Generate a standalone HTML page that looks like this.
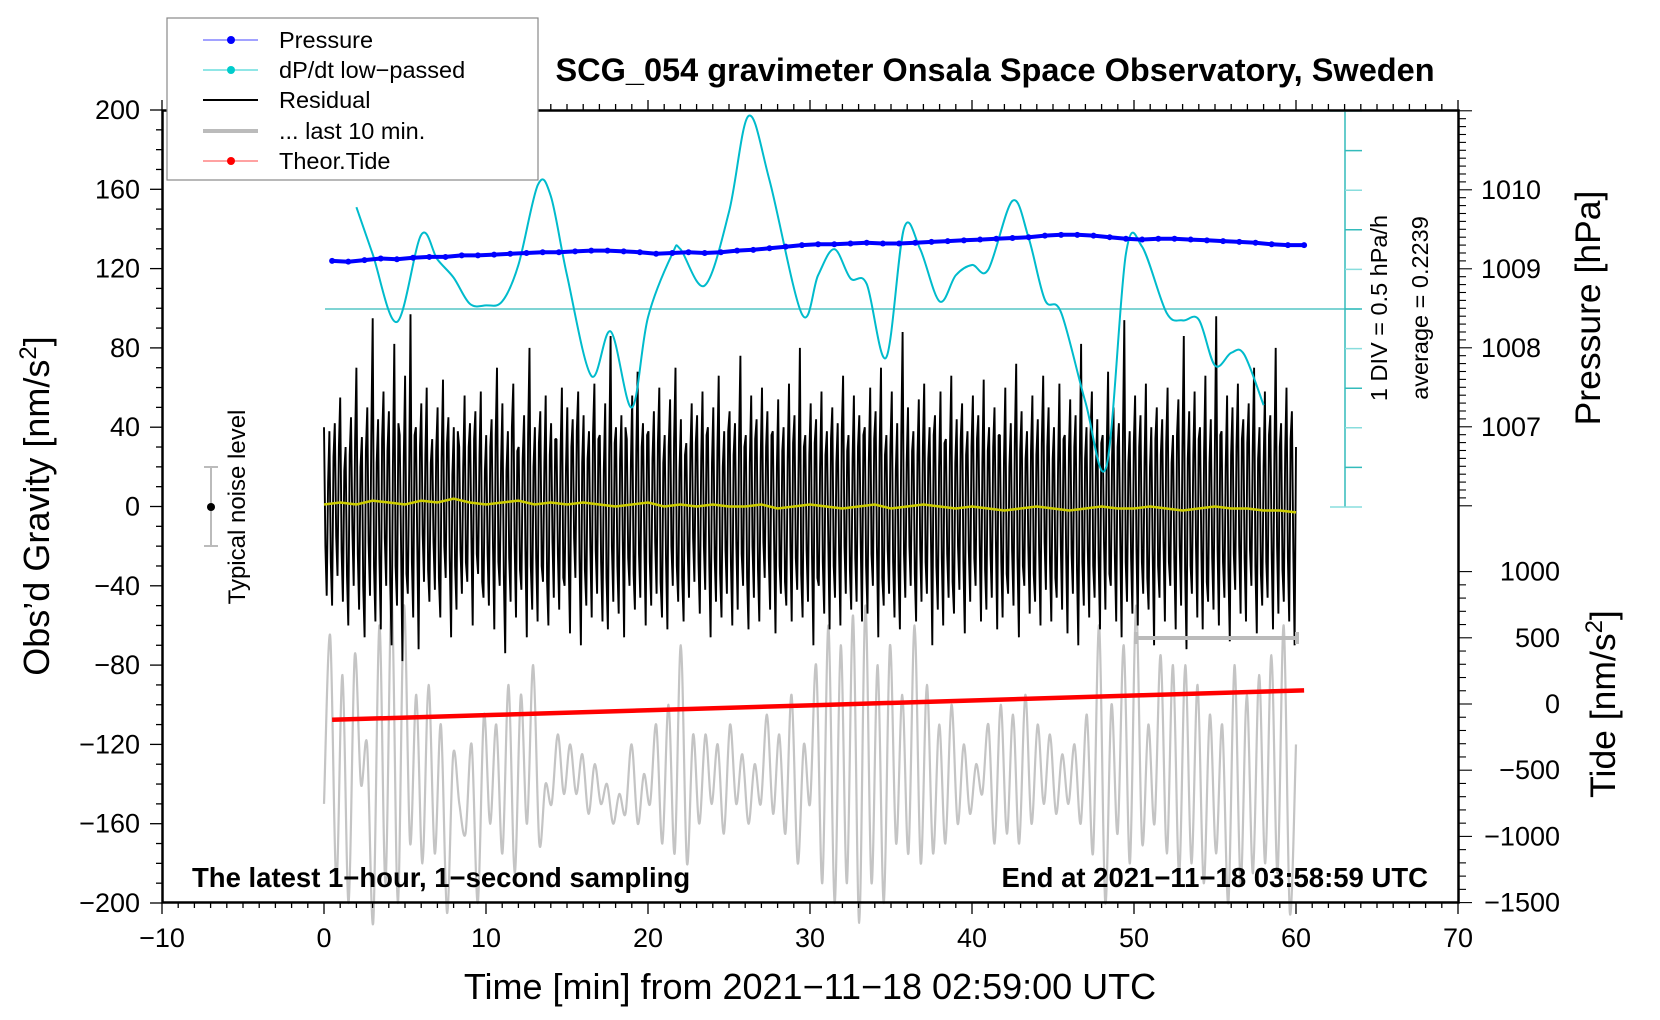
<!DOCTYPE html>
<html><head><meta charset="utf-8"><style>
html,body{margin:0;padding:0;background:#fff}
svg{display:block;font-family:"Liberation Sans",sans-serif}
</style></head><body>
<svg id="c" width="1660" height="1020" viewBox="0 0 1660 1020" xmlns="http://www.w3.org/2000/svg">
<g id="gGray"></g>
<g id="gRes"></g>
<g id="gYel"></g>
<g id="gTide"></g>
<g id="gCyan"></g>
<g id="gPres"></g>
<g id="gAxes"></g>
<text x="995" y="81" text-anchor="middle" font-size="32.5" font-weight="bold">SCG_054 gravimeter Onsala Space Observatory, Sweden</text>
<text x="192" y="887" font-size="27.5" font-weight="bold">The latest 1−hour, 1−second sampling</text>
<text x="1428" y="887" text-anchor="end" font-size="27.5" font-weight="bold">End at 2021−11−18 03:58:59 UTC</text>
<text x="810" y="999" text-anchor="middle" font-size="36">Time [min] from 2021−11−18 02:59:00 UTC</text>
<text transform="translate(49,506) rotate(-90)" text-anchor="middle" font-size="36">Obs’d Gravity [nm/s<tspan dy="-13" font-size="24">2</tspan><tspan dy="13">]</tspan></text>
<text transform="translate(1600,308) rotate(-90)" text-anchor="middle" font-size="35.5">Pressure [hPa]</text>
<text transform="translate(1615,704) rotate(-90)" text-anchor="middle" font-size="35.5">Tide [nm/s<tspan dy="-13" font-size="24">2</tspan><tspan dy="13">]</tspan></text>
<text transform="translate(1387,308) rotate(-90)" text-anchor="middle" font-size="23.5">1 DIV = 0.5 hPa/h</text>
<text transform="translate(1428,308) rotate(-90)" text-anchor="middle" font-size="23.5">average = 0.2239</text>
<g>
<line x1="211" y1="467" x2="211" y2="546" stroke="#bbb" stroke-width="2"/>
<line x1="204" y1="467" x2="218" y2="467" stroke="#bbb" stroke-width="2"/>
<line x1="204" y1="546" x2="218" y2="546" stroke="#bbb" stroke-width="2"/>
<circle cx="211" cy="507" r="4" fill="#000"/>
</g>
<text transform="translate(245,507) rotate(-90)" text-anchor="middle" font-size="24">Typical noise level</text>
<g>
<line x1="1136" y1="638" x2="1297" y2="638" stroke="#bbb" stroke-width="4"/>
<line x1="1136" y1="632" x2="1136" y2="644" stroke="#bbb" stroke-width="4"/>
<line x1="1297" y1="632" x2="1297" y2="644" stroke="#bbb" stroke-width="4"/>
</g>
<g>
<rect x="167" y="18" width="371" height="162" fill="#fff" stroke="#888" stroke-width="1.2"/>
<g><line x1="203" y1="40" x2="258" y2="40" stroke="#44f" stroke-width="1"/><circle cx="231" cy="40" r="4" fill="#00f"/><text x="279" y="48" font-size="23.5">Pressure</text></g>
<g><line x1="203" y1="70" x2="258" y2="70" stroke="#2cc" stroke-width="1"/><circle cx="231" cy="70" r="4" fill="#0cc"/><text x="279" y="78" font-size="23.5">dP/dt low−passed</text></g>
<g><line x1="203" y1="100" x2="258" y2="100" stroke="#000" stroke-width="2"/><text x="279" y="108" font-size="23.5">Residual</text></g>
<g><line x1="203" y1="131" x2="258" y2="131" stroke="#bbb" stroke-width="4"/><text x="279" y="139" font-size="23.5">... last 10 min.</text></g>
<g><line x1="203" y1="161" x2="258" y2="161" stroke="#f44" stroke-width="1"/><circle cx="231" cy="161" r="4" fill="#f00"/><text x="279" y="169" font-size="23.5">Theor.Tide</text></g>
</g>
</svg>
<script>
const residual=[40,-45,38,-50,42,-35,55,-48,30,-60,45,-40,70,-52,35,-66,50,-45,95,-58,
44,-62,58,-40,48,-70,82,-50,36,-78,66,-44,97,-56,40,-72,52,-38,60,-48,
34,-42,50,-56,64,-36,45,-66,40,-52,30,-44,56,-38,42,-60,48,-34,58,-46,
36,-50,44,-62,70,-40,52,-74,38,-48,62,-56,30,-42,46,-66,80,-52,40,-58,
48,-38,56,-60,42,-46,34,-52,60,-40,50,-64,44,-36,58,-70,46,-50,38,-56,
62,-44,36,-58,52,-62,86,-48,40,-54,46,-66,34,-40,56,-52,68,-46,42,-60,
38,-50,48,-44,60,-56,36,-62,54,-40,70,-48,44,-58,32,-46,52,-38,46,-54,
58,-42,40,-66,50,-48,66,-56,38,-44,48,-60,42,-52,76,-40,36,-62,56,-46,
44,-58,60,-36,48,-52,38,-64,54,-44,40,-50,62,-58,46,-42,80,-56,36,-48,
52,-70,44,-40,58,-54,38,-62,50,-46,42,-60,66,-44,36,-52,56,-48,46,-58,
40,-54,60,-40,48,-66,70,-50,36,-44,58,-56,42,-62,88,-46,50,-40,38,-58,
54,-48,62,-44,40,-70,46,-52,58,-60,34,-46,66,-54,44,-42,52,-64,38,-48,
56,-40,46,-58,64,-52,40,-46,50,-62,36,-56,60,-44,42,-50,72,-66,48,-40,
38,-54,56,-48,44,-60,66,-42,50,-58,40,-46,62,-52,36,-64,54,-44,46,-70,
82,-50,40,-56,58,-46,44,-62,36,-52,68,-40,50,-58,42,-66,94,-48,38,-54,
56,-60,46,-44,62,-52,40,-70,50,-46,44,-58,60,-40,36,-62,54,-50,86,-72,
48,-44,58,-56,40,-62,66,-48,44,-52,96,-60,38,-46,56,-68,50,-42,62,-54,
44,-58,52,-40,70,-64,40,-50,58,-46,46,-62,80,-54,42,-48,60,-58,48,-70];
const residualMid=[-20,12,-28,25,-15,30,-22,18,-35,26,-12,33,-24,20,-40,28,-18,36,-30,22,
-26,34,-16,28,-38,20,-30,42,-22,25,-34,18,-28,36,-20,30,-14,26,-32,22,
-18,28,-36,24,-20,32,-26,16,-30,38,-22,20,-28,30,-16,34,-24,26,-38,18,
-24,30,-20,36,-28,22,-34,18,-26,40,-18,28,-32,24,-22,36,-30,20,-26,32,
-30,22,-38,26,-18,34,-24,28,-36,20,-28,30,-16,38,-26,22,-32,24,-20,36,
-22,34,-28,18,-36,26,-20,32,-30,24,-18,40,-26,22,-34,28,-24,30,-20,36,
-28,24,-18,32,-38,22,-26,30,-20,34,-30,18,-36,26,-22,28,-16,32,-28,24,
-20,36,-30,22,-26,28,-34,20,-22,38,-28,26,-18,32,-24,30,-36,22,-20,34,
-32,24,-18,30,-26,36,-22,20,-30,28,-38,24,-20,32,-26,18,-34,30,-22,26,
-24,32,-36,20,-28,26,-18,34,-30,22,-24,38,-20,28,-32,24,-26,30,-18,36,
-30,22,-24,34,-20,28,-36,26,-22,30,-28,18,-32,36,-24,22,-20,28,-34,26,
-22,30,-28,24,-18,36,-30,20,-26,32,-24,28,-38,22,-20,34,-28,26,-22,30,
-26,34,-20,22,-32,28,-24,30,-18,36,-28,24,-34,20,-22,32,-26,28,-30,24,
-20,28,-34,26,-22,32,-18,30,-28,24,-36,22,-20,34,-26,28,-24,30,-32,20,
-28,24,-22,36,-30,20,-26,32,-18,28,-34,26,-24,30,-20,38,-28,22,-26,32,
-22,30,-28,24,-36,20,-24,34,-30,26,-18,32,-28,22,-26,36,-20,28,-32,24,
-30,26,-20,34,-24,28,-38,22,-26,30,-22,36,-28,20,-32,26,-24,30,-20,34,
-26,32,-22,28,-30,24,-34,20,-28,36,-24,26,-20,30,-32,28,-26,34,-22,30];
const residualSmooth=[1,2,1,3,2,1,3,2,4,2,1,2,3,1,2,1,2,1,0,1,2,0,1,0,1,0,0,1,-1,0,
1,0,-1,0,1,-1,0,1,0,-1,0,-1,-2,-1,0,-1,-2,-1,0,-1,-1,0,-1,-2,-1,0,-1,-1,-2,-2,-3];
const gray=[-150,-65,-190,-85,-200,-75,-140,-120,-210,-60,-190,-45,-200,-50,-170,-95,-180,-90,-175,-110,
-205,-125,-150,-165,-120,-200,-105,-160,-110,-175,-90,-185,-95,-160,-80,-170,-140,-150,-115,-145,
-120,-145,-125,-155,-130,-150,-140,-160,-145,-155,-120,-160,-135,-150,-110,-170,-100,-175,-70,-180,
-115,-160,-115,-150,-120,-165,-110,-150,-125,-160,-130,-150,-105,-155,-115,-165,-95,-180,-120,-150,
-80,-190,-60,-200,-70,-190,-55,-210,-50,-190,-80,-200,-70,-170,-95,-175,-60,-180,-90,-175,
-110,-170,-100,-160,-120,-155,-130,-145,-110,-170,-100,-165,-105,-170,-95,-160,-110,-150,-115,-155,
-125,-150,-120,-160,-105,-175,-60,-200,-100,-165,-70,-180,-50,-170,-110,-160,-75,-175,-80,-185,
-80,-180,-90,-190,-105,-175,-110,-200,-80,-190,-95,-185,-85,-180,-75,-185,-60,-205,-120];
const pressure=[1009.10,1009.09,1009.11,1009.13,1009.12,1009.14,1009.15,1009.15,1009.17,1009.17,1009.18,1009.19,1009.20,1009.21,1009.21,1009.22,1009.23,1009.23,1009.22,1009.21,1009.19,1009.20,1009.21,1009.20,1009.21,1009.23,1009.24,1009.26,1009.28,1009.30,1009.31,1009.31,1009.32,1009.33,1009.32,1009.32,1009.33,1009.34,1009.35,1009.36,1009.37,1009.38,1009.39,1009.40,1009.42,1009.43,1009.43,1009.42,1009.40,1009.38,1009.37,1009.38,1009.38,1009.37,1009.36,1009.35,1009.34,1009.33,1009.31,1009.30,1009.30];
const dpdtTime=[2,3,4.5,6,7,8,9,10,11,12,13.2,14,15,16.5,17.7,19,20,21.5,22,23.5,25,26.2,27.5,29.5,30.5,31.5,32.5,33.5,34.7,35.8,36.8,38,39,40,41,42.5,43.5,44.5,45.5,47,48.3,49.5,50.5,52,53,54,55,56,56.8,58];
const dpdtValue=[1.51,0.92,0.06,1.16,0.85,0.62,0.29,0.27,0.32,0.78,1.79,1.65,0.65,-0.62,-0.06,-1.02,0.12,0.92,0.98,0.52,1.45,2.66,1.85,0.16,0.65,0.98,0.61,0.54,-0.39,1.24,0.98,0.32,0.65,0.78,0.72,1.59,1.12,0.34,0.18,-0.95,-1.76,0.92,1.01,0.18,0.08,0.09,-0.49,-0.33,-0.35,-0.99];
const dpdtAverage=0.2239;
const tideTime=[0.5,10.5,20.5,30.5,40.5,50.5,60.5];
const tideValue=[-119,-82,-45,-8,29,66,103];
const xTicks=[-10,0,10,20,30,40,50,60,70];
const yTicks=[-200,-160,-120,-80,-40,0,40,80,120,160,200];
const pTicks=[1007,1008,1009,1010];
const tTicks=[-1500,-1000,-500,0,500,1000];

const NS="http://www.w3.org/2000/svg";
const X=t=>162+(t+10)*16.2;
const Y=g=>506.5-g*1.9825;
const P=p=>110+(1011.01-p)*79;
const T=v=>704-v*0.1324;
const D=v=>309-(v-dpdtAverage)/0.5*39.6;
function mk(tag,attrs,parent){const e=document.createElementNS(NS,tag);for(const k in attrs)e.setAttribute(k,attrs[k]);parent.appendChild(e);return e;}
function smooth(pts){let d="M"+pts[0][0]+","+pts[0][1];for(let i=0;i<pts.length-1;i++){const p0=pts[i-1]||pts[i],p1=pts[i],p2=pts[i+1],p3=pts[i+2]||p2;
d+=" C"+(p1[0]+(p2[0]-p0[0])/6)+","+(p1[1]+(p2[1]-p0[1])/6)+" "+(p2[0]-(p3[0]-p1[0])/6)+","+(p2[1]-(p3[1]-p1[1])/6)+" "+p2[0]+","+p2[1];}return d;}

let gp=gray.map((v,i)=>[X(i*60/(gray.length-1)),Y(v)]);
let e=mk("path",{d:smooth(gp),fill:"none",stroke:"#c4c4c4","stroke-width":2.2},document.getElementById("gGray"));


const resAll=[];
residual.forEach((v,i)=>{resAll.push(v);if(i<residualMid.length)resAll.push(residualMid[i]);});
let rp=resAll.map((v,i)=>X(i*60/(resAll.length-1)).toFixed(1)+","+Y(v).toFixed(1)).join(" ");
e=mk("polyline",{points:rp,fill:"none",stroke:"#000","stroke-width":1.9,"stroke-linejoin":"bevel"},document.getElementById("gRes"));


let yp=residualSmooth.map((v,i)=>X(i*60/(residualSmooth.length-1)).toFixed(1)+","+Y(v).toFixed(1)).join(" ");
e=mk("polyline",{points:yp,fill:"none",stroke:"#cc0","stroke-width":2.5},document.getElementById("gYel"));


let tp=tideValue.map((v,i)=>X(tideTime[i]).toFixed(1)+","+T(v).toFixed(1)).join(" ");
e=mk("polyline",{points:tp,fill:"none",stroke:"#f00","stroke-width":4.5},document.getElementById("gTide"));


const gc=document.getElementById("gCyan");
e=mk("line",{x1:325,y1:D(dpdtAverage),x2:1360,y2:D(dpdtAverage),stroke:"#3bb","stroke-width":1.3},gc);


e=mk("line",{x1:1345,y1:110,x2:1345,y2:507,stroke:"#3bb","stroke-width":1.5},gc);


for(let k=-5;k<=5;k++){const y=D(dpdtAverage+k*0.5);const full=(k===5||k===-5);
e=mk("line",{x1:full?1330:1345,y1:y,x2:1362,y2:y,stroke:k%2?"#8dd":"#3bb","stroke-width":1.5},gc);

}
let cp=dpdtValue.map((v,i)=>[X(dpdtTime[i]),D(v)]);
e=mk("path",{d:smooth(cp),fill:"none",stroke:"#0bc","stroke-width":2},gc);


const gpz=document.getElementById("gPres");
let pp=pressure.map((v,i)=>X(0.5+i).toFixed(1)+","+P(v).toFixed(1)).join(" ");
e=mk("polyline",{points:pp,fill:"none",stroke:"#00f","stroke-width":4},gpz);


pressure.forEach((v,i)=>{const c=mk("circle",{cx:X(0.5+i),cy:P(v),r:3,fill:"#00f"},gpz);

});
const ga=document.getElementById("gAxes");
e=mk("rect",{x:162.5,y:110.5,width:1296,height:792,fill:"none",stroke:"#000","stroke-width":2.5},ga);


function tick(x1,y1,x2,y2,w){const l=mk("line",{x1,y1,x2,y2,stroke:"#000","stroke-width":w||1.3},ga);

}
function label(x,y,s,anchor){const t=mk("text",{x,y,"font-size":27,"text-anchor":anchor},ga);t.textContent=s;

}
for(let m=-10;m<=70;m++){const x=X(m);const maj=m%10===0;tick(x,902,x,maj?914:908);tick(x,110,x,maj?100:104);}
xTicks.forEach(v=>label(X(v),947,String(v).replace("-","−"),"middle"));
for(let g=-200;g<=200;g+=10){const y=Y(g);tick(162,y,g%40===0?150:156,y);}
yTicks.forEach(v=>label(140,Y(v)+9,String(v).replace("-","−"),"end"));
for(let p=1006;p<=1011.01;p+=0.1){const y=P(p);if(y<110||y>506)continue;const maj=Math.abs(p-Math.round(p))<0.01;tick(1458,y,maj?1472:1466,y,1.1);}
pTicks.forEach(v=>label(1481,P(v)+9,String(v),"start"));
for(let v=-1500;v<=1000;v+=100){const y=T(v);const maj=v%500===0;tick(1458,y,maj?1472:1466,y,1.1);}
tTicks.forEach(v=>label(1560,T(v)+9,String(v).replace("-","−"),"end"));
</script>
</body></html>
